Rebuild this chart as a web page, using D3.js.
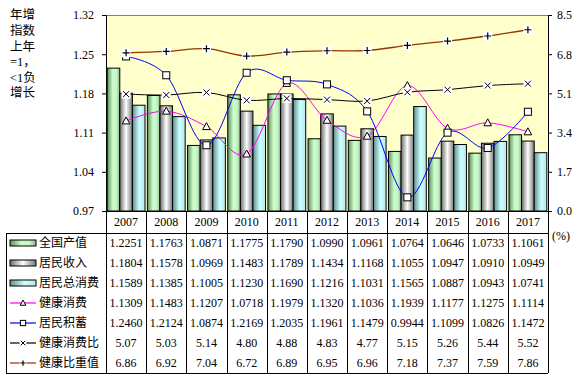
<!DOCTYPE html>
<html>
<head>
<meta charset="utf-8">
<script src="https://cdn.jsdelivr.net/npm/d3@7"></script>
<style>
  body { margin: 0; background: #fff; }
  svg text { font-family: "Liberation Serif", "Times New Roman", "Noto Sans CJK SC", serif; fill: #000; }
  .cjk { font-family: "Liberation Serif", "Noto Sans CJK SC", sans-serif; }
</style>
</head>
<body>
<script>
// data
const years = ['2007','2008','2009','2010','2011','2012','2013','2014','2015','2016','2017'];
const gdp         = [1.2251,1.1763,1.0871,1.1775,1.1790,1.0990,1.0961,1.0764,1.0646,1.0733,1.1061];
const income      = [1.1804,1.1578,1.0969,1.1483,1.1789,1.1434,1.1168,1.1055,1.0947,1.0910,1.0949];
const consume     = [1.1589,1.1385,1.1005,1.1230,1.1690,1.1216,1.1031,1.1565,1.0887,1.0943,1.0741];
const health      = [1.1309,1.1483,1.1207,1.0718,1.1979,1.1320,1.1036,1.1939,1.1177,1.1275,1.1114];
const savings     = [1.2460,1.2124,1.0874,1.2169,1.2035,1.1961,1.1479,0.9944,1.1099,1.0826,1.1472];
const healthRatio = [5.07,5.03,5.14,4.80,4.88,4.83,4.77,5.15,5.26,5.44,5.52];
const healthShare = [6.86,6.92,7.04,6.72,6.89,6.95,6.96,7.18,7.37,7.59,7.86];
const leftTicks  = [0.97,1.04,1.11,1.18,1.25,1.32];
const rightTicks = [0,1.7,3.4,5.1,6.8,8.5];
const titleLines = ['年增','指数','上年','=1，','<1负','增长'];

// layout
const W = 582, H = 379;
const L = 106, R = 548, T = 15, B = 211;
const rowTop = 233, rowH = 20, tableLeft = 6;

const svg = d3.select('body').append('svg').attr('width', W).attr('height', H);
const defs = svg.append('defs');

function grad(id, stops){
    const g = defs.append('linearGradient').attr('id', id)
        .attr('x1','0%').attr('x2','100%').attr('y1','0%').attr('y2','0%');
    stops.forEach(([o,c])=>g.append('stop').attr('offset', o).attr('stop-color', c));
}
grad('gGreen', [['0%','#5f8f5f'],['45%','#ccffcc'],['75%','#c4f4c4'],['100%','#8fb38f']]);
grad('gGray',  [['0%','#6e6e6e'],['50%','#ffffff'],['100%','#777777']]);
grad('gCyan',  [['0%','#5f8f8f'],['55%','#ccffff'],['100%','#b8e8e8']]);

const barSeries = [
    {name:'全国产值',   values: gdp,     fill:'url(#gGreen)'},
    {name:'居民收入',   values: income,  fill:'url(#gGray)'},
    {name:'居民总消费', values: consume, fill:'url(#gCyan)'}
];
const lineSeries = [
    {name:'健康消费',   values: health,      color:'#ff00ff', marker:'tri', axis:'left',  fmt: d3.format('.4f')},
    {name:'居民积蓄',   values: savings,     color:'#0000ff', marker:'sq',  axis:'left',  fmt: d3.format('.4f')},
    {name:'健康消费比', values: healthRatio, color:'#000000', marker:'x',   axis:'right', fmt: d3.format('.2f')},
    {name:'健康比重值', values: healthShare, color:'#993300', marker:'plus',axis:'right', fmt: d3.format('.2f')}
];

// scales
const x = d3.scaleBand().domain(years).range([L, R]).padding(0);
const yL = d3.scaleLinear().domain([0.97, 1.32]).range([B, T]);
const yR = d3.scaleLinear().domain([0, 8.5]).range([B, T]);

// plot background
svg.append('rect').attr('x', L).attr('y', T).attr('width', R-L).attr('height', B-T).attr('fill', '#ffffcc');
svg.append('line').attr('x1', L).attr('x2', R).attr('y1', T+0.5).attr('y2', T+0.5).attr('stroke', '#808080');

// bars
const bw = 12.6, off = (x.bandwidth() - bw*3)/2;
barSeries.forEach((s, si)=>{
    svg.append('g').selectAll('rect').data(s.values).join('rect')
        .attr('x', (d,i)=>x(years[i]) + off + si*bw)
        .attr('y', d=>yL(d))
        .attr('width', bw)
        .attr('height', d=>B - yL(d))
        .attr('fill', s.fill)
        .attr('stroke', '#000').attr('stroke-width', 1);
});

// markers
function drawMarker(g, type, size){
    const k = size || 1;
    if(type==='tri'){
        g.append('path').attr('d', `M0,${-4*k}L${3.8*k},${3*k}L${-3.8*k},${3*k}Z`)
            .attr('fill','#fff').attr('stroke','#000');
    } else if(type==='sq'){
        g.append('rect').attr('x', -3.5*k).attr('y', -3.5*k).attr('width', 7*k).attr('height', 7*k)
            .attr('fill','#fff').attr('stroke','#000');
    } else if(type==='x'){
        g.append('rect').attr('x', -4.5*k).attr('y', -4.5*k).attr('width', 9*k).attr('height', 9*k).attr('fill','#fff');
        g.append('path').attr('d', `M${-3*k},${-3*k}L${3*k},${3*k}M${3*k},${-3*k}L${-3*k},${3*k}`)
            .attr('stroke','#000').attr('stroke-width', 1);
    } else {
        g.append('rect').attr('x', -4.5*k).attr('y', -4.5*k).attr('width', 9*k).attr('height', 9*k).attr('fill','#fff');
        g.append('path').attr('d', `M${-3.5*k},0L${3.5*k},0M0,${-3.5*k}L0,${3.5*k}`)
            .attr('stroke','#000').attr('stroke-width', 1.2);
    }
}

// lines
const cx = i => x(years[i]) + x.bandwidth()/2;
lineSeries.forEach(s=>{
    const ys = s.axis==='left' ? yL : yR;
    const lineGen = d3.line().x((d,i)=>cx(i)).y(d=>ys(d)).curve(d3.curveCardinal.tension(0));
    svg.append('path').datum(s.values).attr('d', lineGen)
        .attr('fill','none').attr('stroke', s.color).attr('stroke-width', s.color==='#993300' ? 1.3 : 1);
});
lineSeries.forEach(s=>{
    const ys = s.axis==='left' ? yL : yR;
    s.values.forEach((v,i)=>{
        const g = svg.append('g').attr('transform', `translate(${cx(i)},${ys(v)})`);
        drawMarker(g, s.marker);
    });
});

// axes
svg.append('g').attr('transform', `translate(${L},0)`)
    .call(d3.axisLeft(yL).tickValues(leftTicks).tickFormat(d3.format('.2f')).tickSize(4).tickPadding(8))
    .call(g=>g.select('.domain').attr('stroke','#000'))
    .call(g=>g.selectAll('text').attr('font-size', 12).attr('font-family','Liberation Serif'));
svg.append('g').attr('transform', `translate(${R},0)`)
    .call(d3.axisRight(yR).tickValues(rightTicks).tickFormat(d3.format('.1f')).tickSize(4).tickPadding(5))
    .call(g=>g.select('.domain').attr('stroke','#000'))
    .call(g=>g.selectAll('text').attr('font-size', 12).attr('font-family','Liberation Serif'));
svg.append('text').attr('x', 552).attr('y', 236).attr('dy','0.35em').attr('font-size', 12).text('(%)');

// left title
svg.append('g').selectAll('text').data(titleLines).join('text')
    .attr('class','cjk')
    .attr('x', 10).attr('y', (d,i)=>15 + i*15.6).attr('dy','0.35em')
    .attr('font-size', 12.5).text(d=>d);

// data table
const tbl = svg.append('g').attr('stroke', '#000').attr('stroke-width', 1);
const tableBottom = rowTop + rowH*7;
tbl.append('line').attr('x1', L).attr('x2', R).attr('y1', B+0.5).attr('y2', B+0.5);
tbl.append('line').attr('x1', tableLeft).attr('x2', R).attr('y1', rowTop+0.5).attr('y2', rowTop+0.5);
tbl.append('line').attr('x1', tableLeft).attr('x2', R).attr('y1', tableBottom+0.5).attr('y2', tableBottom+0.5);
tbl.append('line').attr('x1', tableLeft+0.5).attr('x2', tableLeft+0.5).attr('y1', rowTop).attr('y2', tableBottom);
[...years.map(y=>x(y)), R].forEach(px=>{
    tbl.append('line').attr('x1', Math.round(px)+0.5).attr('x2', Math.round(px)+0.5).attr('y1', B).attr('y2', tableBottom);
});

svg.append('g').selectAll('text').data(years).join('text')
    .attr('x', d=>x(d)+x.bandwidth()/2).attr('y', 222).attr('dy','0.35em')
    .attr('text-anchor','middle').attr('font-size', 12).text(d=>d);

const rows = [
    ...barSeries.map(s=>({...s, kind:'bar', fmt:d3.format('.4f')})),
    ...lineSeries.map(s=>({...s, kind:'line'}))
];
rows.forEach((s, ri)=>{
    const yc = rowTop + rowH*ri + rowH/2;
    // legend key
    if(s.kind==='bar'){
        svg.append('rect').attr('x', 10).attr('y', yc-3).attr('width', 26).attr('height', 6)
            .attr('fill', s.fill).attr('stroke', '#000');
    } else {
        svg.append('line').attr('x1', 10).attr('x2', 36).attr('y1', yc).attr('y2', yc)
            .attr('stroke', s.color).attr('stroke-width', 1.2);
        const g = svg.append('g').attr('transform', `translate(23,${yc})`);
        drawMarker(g, s.marker, 0.75);
    }
    svg.append('text').attr('class','cjk').attr('x', 39).attr('y', yc).attr('dy','0.35em')
        .attr('font-size', 12).text(s.name);
    svg.append('g').selectAll('text').data(s.values).join('text')
        .attr('x', (d,i)=>cx(i)).attr('y', yc).attr('dy','0.35em')
        .attr('text-anchor','middle').attr('font-size', 12)
        .text(d=>s.fmt(d));
});
</script>
</body>
</html>
